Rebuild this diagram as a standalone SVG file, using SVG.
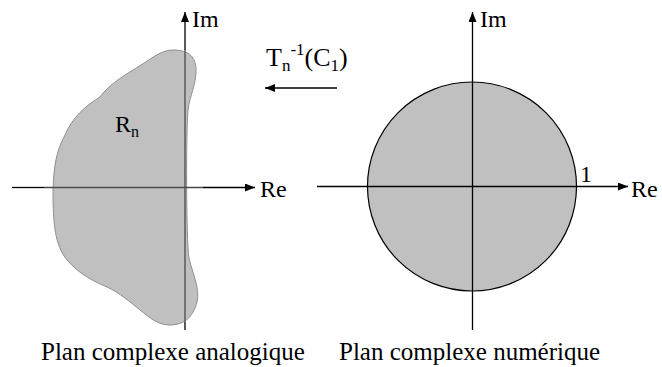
<svg xmlns="http://www.w3.org/2000/svg" width="662" height="367" viewBox="0 0 662 367">
<style>
text{font-family:"Liberation Serif","Times New Roman",serif;fill:#000}
.ax{stroke:#000;stroke-width:1.3;fill:none}
.axg{stroke:#4a4a4a;stroke-width:1.3;fill:none}
.lbl{font-size:24px}
.cap{font-size:25px}
</style>
<defs>
<marker id="ah" viewBox="0 0 10 8" refX="10" refY="4" markerWidth="10" markerHeight="8" markerUnits="userSpaceOnUse" orient="auto">
<path d="M0,0 L10,4 L0,8 Z" fill="#000"/>
</marker>
</defs>
<g id="region-Rn">
<path d="M173,50 C160,50 150,60 133,70 C120,78 108,86 100,97 C85,106 72,118 65,135 C56,152 54,165 53,190 C53,225 55,245 67,260 C80,275 95,282 107,287 C120,293 130,302 140,310 C150,318 158,325 170,325 C183,325 193,318 197,302 C200,288 193,275 189,258 C186,240 186,130 188,110 C190,95 196,85 196,70 C196,58 190,50 173,50 Z" fill="#c0c0c0" stroke="#8f8f8f" stroke-width="1"/>
<text class="lbl" x="115" y="132">R<tspan font-size="16" dy="5">n</tspan></text>
</g>
<g id="axes-left">
<line class="ax" x1="12" y1="187.5" x2="44" y2="187.5"/>
<line class="axg" x1="44" y1="187.5" x2="203" y2="187.5"/>
<line class="ax" x1="203" y1="187.5" x2="255" y2="187.5" marker-end="url(#ah)"/>
<line class="ax" x1="185" y1="330" x2="185" y2="322"/>
<line class="axg" x1="185" y1="322" x2="185" y2="50"/>
<line class="ax" x1="185" y1="50" x2="185" y2="12" marker-end="url(#ah)"/>
<text class="lbl" x="192" y="27">Im</text>
<text class="lbl" x="260" y="197">Re</text>
</g>
<g id="disk">
<circle cx="472" cy="186.5" r="104.5" fill="#c0c0c0" stroke="#000" stroke-width="1.2"/>
<text class="lbl" x="580" y="182">1</text>
</g>
<g id="axes-right">
<line class="ax" x1="317" y1="186.5" x2="628" y2="186.5" marker-end="url(#ah)"/>
<line class="ax" x1="472.5" y1="330" x2="472.5" y2="12" marker-end="url(#ah)"/>
<text class="lbl" x="480" y="27">Im</text>
<text class="lbl" x="631" y="197">Re</text>
</g>
<g id="connectors">
<line class="ax" x1="337" y1="88" x2="265" y2="88" marker-end="url(#ah)"/>
<text x="266" y="66" font-size="26">T<tspan font-size="17" dy="5">n</tspan><tspan font-size="17" dy="-16">-1</tspan><tspan dy="11">(C</tspan><tspan font-size="17" dy="5">1</tspan><tspan dy="-5">)</tspan></text>
</g>
<g id="captions">
<text class="cap" x="41" y="360">Plan complexe analogique</text>
<text class="cap" x="339" y="360">Plan complexe numérique</text>
</g>
</svg>
